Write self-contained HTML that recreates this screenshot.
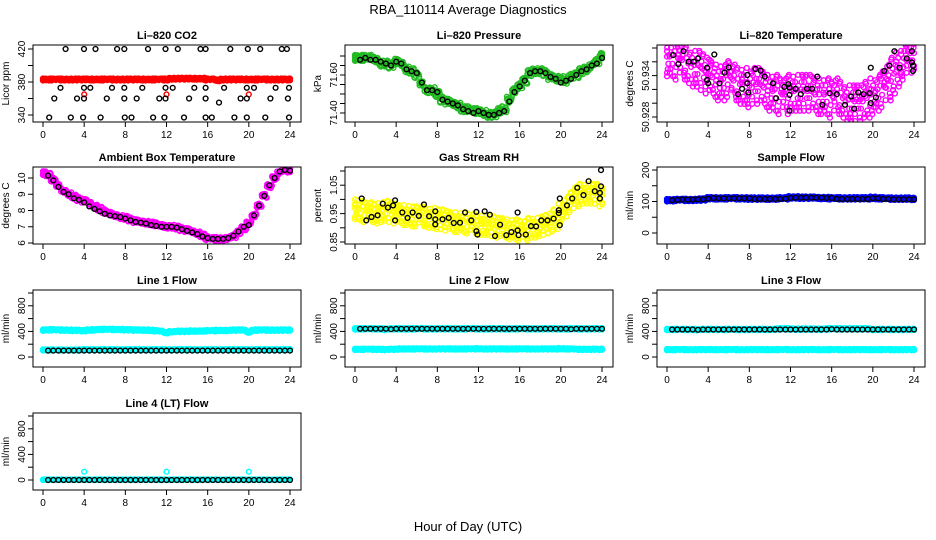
<!DOCTYPE html>
<html><head><meta charset="utf-8"><style>
body{margin:0;background:#fff}
svg{display:block;font-family:"Liberation Sans",sans-serif}
</style></head><body>
<svg id="chart" width="936" height="540" viewBox="0 0 936 540">
<text x="468" y="14" text-anchor="middle" font-size="13">RBA_110114  Average Diagnostics</text>
<text x="468" y="531" text-anchor="middle" font-size="13">Hour of Day (UTC)</text>
</svg>
<script>
// ---- data ----
const halfHours = [0,0.5,1,1.5,2,2.5,3,3.5,4,4.5,5,5.5,6,6.5,7,7.5,8,8.5,9,9.5,10,10.5,11,11.5,12,12.5,13,13.5,14,14.5,15,15.5,16,16.5,17,17.5,18,18.5,19,19.5,20,20.5,21,21.5,22,22.5,23,23.5,24];
const xTicks = [0,4,8,12,16,20,24];

const co2Red = [383,383,383,383,383,383,383,383,383,383,383,383,383,383,383,383,383,383,383,383,383,383,383,383,383,384,384,384,384,384,384,384,383,383,382,383,383,383,383,383,383,383,383,383,383,383,383,383,383];
const co2RedOutHour = [4,12,20];
const co2RedOutVal = [365,365,365];
const co2BlackHour = [2.2,3.98,5.1,7.2,7.9,10.2,11.9,13.1,15.3,15.8,18.2,19.9,21.1,23.2,23.7,1.7,3.98,4.6,6.7,7.9,9.65,11.9,12.6,14.7,15.8,17.6,19.8,20.5,22.6,23.9,1.1,3.3,3.98,6.2,7.9,9.1,11.3,11.9,14.2,15.8,19.2,19.8,22.1,23.8,17.1,0.6,2.7,3.9,5.6,7.95,8.6,10.7,11.8,13.7,15.8,16.4,18.6,19.8,21.6,23.9];
const co2BlackVal = [420,420,420,420,420,420,420,420,420,420,420,420,420,420,420,373,373,373,373,373,373,373,373,373,373,373,373,373,373,373,360,360,360,360,360,360,360,360,360,360,360,360,360,360,355,337,337,337,337,337,337,337,337,337,337,337,337,337,337,337];

const presCloud = [71.69,71.69,71.69,71.69,71.68,71.66,71.66,71.65,71.67,71.66,71.63,71.62,71.60,71.55,71.52,71.52,71.50,71.47,71.46,71.45,71.44,71.42,71.42,71.41,71.41,71.40,71.39,71.39,71.41,71.42,71.47,71.52,71.54,71.57,71.61,71.62,71.62,71.61,71.59,71.58,71.58,71.57,71.59,71.60,71.62,71.63,71.65,71.67,71.70];
const presBlack = [71.68,71.69,71.68,71.68,71.67,71.66,71.65,71.67,71.66,71.63,71.62,71.61,71.56,71.52,71.52,71.51,71.47,71.46,71.45,71.44,71.42,71.41,71.40,71.41,71.40,71.39,71.39,71.40,71.41,71.46,71.51,71.54,71.57,71.61,71.62,71.62,71.61,71.59,71.58,71.56,71.57,71.58,71.60,71.62,71.63,71.65,71.66,71.69];

const tempCloud = [50.9365,50.9365,50.936,50.936,50.9355,50.935,50.935,50.9345,50.934,50.9335,50.933,50.933,50.9335,50.933,50.9325,50.9325,50.932,50.9325,50.9325,50.932,50.9315,50.9315,50.931,50.931,50.9315,50.9315,50.9315,50.9315,50.9315,50.931,50.931,50.931,50.9305,50.931,50.9305,50.930,50.930,50.930,50.930,50.9305,50.931,50.9315,50.932,50.933,50.934,50.935,50.936,50.937,50.937];
const tempBlackHour = [0.6,1.1,1.6,2.1,2.6,3.0,3.9,3.9,4.0,4.6,5.1,5.6,6.0,6.9,7.3,7.8,7.8,7.9,8.6,9.1,9.5,10.3,10.6,11.4,11.8,11.9,11.9,11.9,12.5,13.0,13.6,14.1,14.6,15.1,15.8,16.5,17.3,17.9,18.2,18.6,19.1,19.7,19.8,19.8,20.3,21.1,21.6,22.1,22.6,23.3,23.8,23.8,23.9,23.9];
const tempBlackVal = [50.93697,50.93567,50.93754,50.93601,50.93601,50.93649,50.93515,50.93337,50.93289,50.93706,50.93289,50.93443,50.93519,50.93131,50.93208,50.93409,50.93289,50.93155,50.93495,50.93471,50.93385,50.93289,50.93073,50.93236,50.93275,50.93227,50.93121,50.92891,50.93208,50.93131,50.93208,50.93208,50.93385,50.92977,50.93145,50.93131,50.92977,50.93097,50.92920,50.93155,50.93131,50.93145,50.93001,50.93515,50.93083,50.93467,50.93543,50.93754,50.93515,50.93649,50.93754,50.93591,50.93467,50.93543];

const ambCloud = [10.3,10.2,9.9,9.5,9.2,9.0,8.85,8.7,8.6,8.45,8.25,8.1,7.95,7.8,7.7,7.6,7.55,7.45,7.35,7.3,7.25,7.2,7.15,7.05,7.0,7.0,6.95,6.85,6.8,6.7,6.6,6.45,6.3,6.25,6.25,6.25,6.3,6.4,6.65,6.9,7.2,7.7,8.3,8.9,9.5,10.0,10.35,10.5,10.45];
const ambBlack = [10.15,9.85,9.45,9.15,9.0,8.75,8.65,8.5,8.25,8.1,7.95,7.8,7.7,7.65,7.6,7.5,7.4,7.3,7.25,7.2,7.1,7.05,7.0,7.0,7.0,6.95,6.85,6.75,6.65,6.55,6.4,6.3,6.25,6.25,6.25,6.3,6.45,6.7,7.0,7.1,7.7,8.3,8.9,9.55,10.0,10.4,10.5,10.45];

const rhCloud = [0.965,0.96,0.955,0.955,0.95,0.955,0.96,0.955,0.95,0.945,0.945,0.94,0.94,0.94,0.935,0.935,0.93,0.93,0.925,0.92,0.92,0.92,0.915,0.915,0.91,0.91,0.91,0.905,0.9,0.9,0.895,0.895,0.89,0.89,0.9,0.9,0.905,0.91,0.915,0.93,0.95,0.975,0.99,1.01,1.02,1.02,1.02,1.02,1.01];
const rhBlackHour = [0.65,1.1,1.6,2.2,2.7,3.2,3.7,3.9,3.9,4.6,5.1,5.6,6.2,6.7,7.2,7.8,7.8,7.8,8.5,9.1,9.6,10.2,10.7,11.3,11.8,11.8,11.9,12.6,13.1,14.1,13.6,14.7,15.2,15.8,15.8,15.9,16.6,17.1,17.6,18.1,18.7,19.3,19.8,19.8,19.9,19.9,20.6,21.1,21.6,22.2,22.7,23.3,23.8,23.9,23.9,23.8];
const rhBlackVal = [1.003,0.926,0.938,0.944,0.985,0.971,0.979,0.997,0.926,0.954,0.935,0.954,0.942,0.982,0.941,0.912,0.958,0.93,0.93,0.935,0.917,0.918,0.954,0.926,0.956,0.888,0.876,0.958,0.946,0.911,0.871,0.874,0.885,0.954,0.891,0.874,0.876,0.906,0.905,0.926,0.926,0.932,0.962,0.952,1.003,0.909,0.979,1.003,1.041,1.015,1.064,1.029,1.003,1.103,1.046,1.023];

const sampCloud = [104,104,105,105,105,105,106,106,110,110,110,110,110,110,110,110,109,109,109,109,109,109,110,110,113,113,112,112,112,112,111,111,110,110,110,110,110,110,110,110,112,110,110,109,109,109,109,109,108];
const sampBlack = [104,105,106,106,106,107,107,109,111,110,110,110,110,110,110,110,108,108,108,108,108,108,109,111,112,112,112,112,112,112,111,111,108,108,108,108,108,108,108,110,110,108,108,107,107,107,107,107];

const l1CyanHigh = [420,425,425,420,420,420,415,415,410,420,425,430,430,430,430,430,425,425,420,420,420,415,410,400,380,395,400,400,400,405,405,405,410,410,415,415,415,420,420,420,390,420,420,420,420,420,420,420,420];
const l1CyanLow = [110,110,110,110,110,110,110,110,115,115,115,115,115,115,115,115,115,115,115,115,115,115,115,115,115,115,115,115,115,115,115,115,115,115,115,115,115,115,115,115,115,115,115,115,115,115,115,115,115];
const l1Black = [100,100,100,100,100,100,100,100,100,100,100,100,100,100,100,100,100,100,100,100,100,100,100,100,100,100,100,100,100,100,100,100,100,100,100,100,100,100,100,100,100,100,100,100,100,100,100,100];

const l2CyanHigh = [440,440,440,440,440,440,430,440,440,440,440,440,440,440,440,440,440,440,440,440,440,440,440,440,440,440,440,440,440,440,440,440,440,440,440,440,440,440,440,440,440,440,440,440,440,440,440,440,440];
const l2CyanLow = [120,120,120,120,120,120,115,120,120,125,125,125,125,125,125,125,125,125,125,125,125,125,125,125,130,125,125,125,125,125,125,125,125,125,125,125,125,125,125,125,130,125,125,120,120,120,120,120,120];
const l2Black = [440,440,440,440,440,440,435,440,440,440,440,440,440,440,440,440,440,440,440,440,440,440,440,440,440,440,440,440,440,440,440,440,440,440,440,440,440,440,440,440,440,435,440,440,440,440,440,440];

const l3CyanHigh = [430,430,430,430,430,430,425,430,430,430,430,430,430,430,430,430,430,430,430,430,430,435,440,440,440,435,435,435,435,435,435,440,440,440,440,440,440,440,440,440,430,430,430,430,430,430,430,430,430];
const l3CyanLow = [115,115,115,115,115,115,115,115,115,115,115,115,115,115,115,115,115,115,115,115,115,115,115,115,115,115,115,115,115,115,115,115,115,115,115,115,115,115,115,115,115,115,115,115,115,115,115,115,115];
const l3Black = [430,430,430,430,430,425,430,430,430,430,430,430,430,430,430,430,430,430,430,430,430,430,430,430,430,430,430,430,430,430,430,435,430,430,430,430,430,430,430,430,430,430,430,430,430,430,430,430];

const l4Cyan = [5,5,5,5,5,5,5,5,5,5,5,5,5,5,5,5,5,5,5,5,5,5,5,5,5,5,5,5,5,5,5,5,5,5,5,5,5,5,5,5,5,5,5,5,5,5,5,5,5];
const l4OutHour = [4,12,20];
const l4OutVal = [130,130,130];
const l4Black = [0,0,0,0,0,0,0,0,0,0,0,0,0,0,0,0,0,0,0,0,0,0,0,0,0,0,0,0,0,0,0,0,0,0,0,0,0,0,0,0,0,0,0,0,0,0,0,0];

// ---- drawing ----
const NS = "http://www.w3.org/2000/svg";
const svg = document.getElementById('chart');
const W = 268, H = 77;
const colLeft = [33, 345, 657];
const rowTop = [45, 167, 290, 413];
// scatter jitter pattern (visual spread of raw samples around each average)
const jx = [-0.22,-0.1,0.02,0.14,0.24,-0.16,0.08,-0.04,0.2,-0.24];
const jy = [0.1,-0.8,0.6,-0.3,0.9,0.4,-0.6,-1,0.2,1];

function el(tag, attrs, parent){
  const e = document.createElementNS(NS, tag);
  for (const k in attrs) e.setAttribute(k, attrs[k]);
  (parent || svg).appendChild(e);
  return e;
}

function makePanel(col, row, cfg){
  const left = colLeft[col], top = rowTop[row];
  const g = el('g', {});
  
  
  const xs = h => left + 10 + h * (247 / 24);
  const ys = v => top + cfg.p1 + (v - cfg.v1) * (cfg.p2 - cfg.p1) / (cfg.v2 - cfg.v1);
  const clip = 'clip' + col + row;
  const cp = el('clipPath', {id: clip}, g);
  el('rect', {x: left, y: top, width: W, height: H}, cp);
  const marks = el('g', {'clip-path': 'url(#' + clip + ')'}, g);
  
  
  const pt = (h, v, color, nm) => {
    const c = el('circle', {cx: xs(h).toFixed(1), cy: ys(v).toFixed(1), r: 2.4, fill: 'none', stroke: color, 'stroke-width': 1.4}, marks);
    
    
  };
  cfg.series.forEach(s => {
    if (s.cloud) {
      s.vals.forEach((v, i) => {
        for (let k = 0; k < s.n; k++) {
          const h = Math.min(24, Math.max(0, halfHours[i] + jx[k % 10]));
          pt(h, v + jy[(k + i) % 10] * s.spread, s.color, s.label + '-point');
        }
      });
    } else {
      s.vals.forEach((v, i) => pt(s.hours[i], v, s.color, s.label + '-point'));
    }
  });
  // frame
  const fr = el('rect', {x: left, y: top, width: W, height: H, fill: 'none', stroke: '#000', 'stroke-width': 1}, g);
  
  
  // title
  const t = el('text', {x: left + W / 2, y: top - 6, 'text-anchor': 'middle', 'font-size': 11, 'font-weight': 'bold'}, g);
  t.textContent = cfg.title;
  
  
  // x axis
  const bx = top + H;
  el('line', {x1: xs(0), x2: xs(24), y1: bx, y2: bx, stroke: '#000'}, g);
  xTicks.forEach(h => {
    el('line', {x1: xs(h), x2: xs(h), y1: bx, y2: bx + 5, stroke: '#000'}, g);
    const tl = el('text', {x: xs(h), y: bx + 16, 'text-anchor': 'middle', 'font-size': 10}, g);
    tl.textContent = h;
    
    
  });
  // y axis
  const yt = cfg.ticks;
  el('line', {x1: left, x2: left, y1: ys(yt[0]), y2: ys(yt[yt.length - 1]), stroke: '#000'}, g);
  yt.forEach((v, i) => {
    el('line', {x1: left - 5, x2: left, y1: ys(v), y2: ys(v), stroke: '#000'}, g);
    if (cfg.labels[i] !== '') {
      const yl = el('text', {x: 0, y: 0, 'text-anchor': 'middle', 'font-size': 10,
        transform: 'translate(' + (left - 8) + ',' + ys(v) + ') rotate(-90)'}, g);
      yl.textContent = cfg.labels[i];
      
      
    }
  });
  const ya = el('text', {x: 0, y: 0, 'text-anchor': 'middle', 'font-size': 10,
    transform: 'translate(' + (left - 24) + ',' + (top + H / 2) + ') rotate(-90)'}, g);
  ya.textContent = cfg.ylab;
  
  
}

const flowTicks = [0,200,400,600,800,1000];
const flowLabels = ['0','','400','','800',''];

makePanel(0, 0, {name:'co2', title:'Li\u2013820 CO2', ylab:'Licor ppm', v1:420, p1:4, v2:340, p2:70,
  ticks:[340,360,380,400,420], labels:['340','','380','','420'],
  series:[
    {cloud:true, vals:co2Red, n:10, spread:1.2, color:'#ff0000', label:'co2-raw'},
    {hours:co2RedOutHour, vals:co2RedOutVal, color:'#ff0000', label:'co2-raw-outlier'},
    {hours:co2BlackHour, vals:co2BlackVal, color:'#000', label:'co2-average'}]});
makePanel(1, 0, {name:'pressure', title:'Li\u2013820 Pressure', ylab:'kPa', v1:71.60, p1:30, v2:71.40, p2:68,
  ticks:[71.40,71.45,71.50,71.55,71.60,71.65,71.70], labels:['71.40','','','','71.60','',''],
  series:[
    {cloud:true, vals:presCloud, n:10, spread:0.016, color:'#22bb22', label:'pressure-raw'},
    {hours:halfHours.slice(1), vals:presBlack, color:'#000', label:'pressure-average'}]});
makePanel(2, 0, {name:'temperature', title:'Li\u2013820 Temperature', ylab:'degrees C', v1:50.938, p1:3, v2:50.928, p2:72,
  ticks:[50.928,50.930,50.932,50.934,50.936,50.938], labels:['50.928','','','50.934','',''],
  series:[
    {cloud:true, vals:tempCloud, n:10, spread:0.0026, color:'#ff00ff', label:'temperature-raw'},
    {hours:tempBlackHour, vals:tempBlackVal, color:'#000', label:'temperature-average'}]});
makePanel(0, 1, {name:'ambient', title:'Ambient Box Temperature', ylab:'degrees C', v1:10, p1:11, v2:6, p2:76,
  ticks:[6,7,8,9,10], labels:['6','7','8','9','10'],
  series:[
    {cloud:true, vals:ambCloud, n:10, spread:0.12, color:'#ff00ff', label:'ambient-raw'},
    {hours:halfHours.slice(1), vals:ambBlack, color:'#000', label:'ambient-average'}]});
makePanel(1, 1, {name:'rh', title:'Gas Stream RH', ylab:'percent', v1:1.10, p1:4, v2:0.85, p2:75,
  ticks:[0.85,0.90,0.95,1.00,1.05,1.10], labels:['0.85','','0.95','','1.05',''],
  series:[
    {cloud:true, vals:rhCloud, n:10, spread:0.035, color:'#ffff00', label:'rh-raw'},
    {hours:rhBlackHour, vals:rhBlackVal, color:'#000', label:'rh-average'}]});
makePanel(2, 1, {name:'sample-flow', title:'Sample Flow', ylab:'ml/min', v1:200, p1:3, v2:0, p2:66,
  ticks:[0,50,100,150,200], labels:['0','','100','','200'],
  series:[
    {cloud:true, vals:sampCloud, n:10, spread:4, color:'#0000ff', label:'sample-flow-raw'},
    {hours:halfHours.slice(1), vals:sampBlack, color:'#000', label:'sample-flow-average'}]});
makePanel(0, 2, {name:'line1-flow', title:'Line 1 Flow', ylab:'ml/min', v1:1000, p1:3, v2:0, p2:67,
  ticks:flowTicks, labels:flowLabels,
  series:[
    {cloud:true, vals:l1CyanHigh, n:10, spread:12, color:'#00ffff', label:'line1-raw-high'},
    {cloud:true, vals:l1CyanLow, n:10, spread:8, color:'#00ffff', label:'line1-raw-low'},
    {hours:halfHours.slice(1), vals:l1Black, color:'#000', label:'line1-average'}]});
makePanel(1, 2, {name:'line2-flow', title:'Line 2 Flow', ylab:'ml/min', v1:1000, p1:3, v2:0, p2:67,
  ticks:flowTicks, labels:flowLabels,
  series:[
    {cloud:true, vals:l2CyanHigh, n:10, spread:12, color:'#00ffff', label:'line2-raw-high'},
    {cloud:true, vals:l2CyanLow, n:10, spread:10, color:'#00ffff', label:'line2-raw-low'},
    {hours:halfHours.slice(1), vals:l2Black, color:'#000', label:'line2-average'}]});
makePanel(2, 2, {name:'line3-flow', title:'Line 3 Flow', ylab:'ml/min', v1:1000, p1:3, v2:0, p2:67,
  ticks:flowTicks, labels:flowLabels,
  series:[
    {cloud:true, vals:l3CyanHigh, n:10, spread:12, color:'#00ffff', label:'line3-raw-high'},
    {cloud:true, vals:l3CyanLow, n:10, spread:10, color:'#00ffff', label:'line3-raw-low'},
    {hours:halfHours.slice(1), vals:l3Black, color:'#000', label:'line3-average'}]});
makePanel(0, 3, {name:'line4-flow', title:'Line 4 (LT) Flow', ylab:'ml/min', v1:1000, p1:3, v2:0, p2:67,
  ticks:flowTicks, labels:flowLabels,
  series:[
    {cloud:true, vals:l4Cyan, n:6, spread:4, color:'#00ffff', label:'line4-raw'},
    {hours:l4OutHour, vals:l4OutVal, color:'#00ffff', label:'line4-raw-outlier'},
    {hours:halfHours.slice(1), vals:l4Black, color:'#000', label:'line4-average'}]});
</script>
</body></html>
